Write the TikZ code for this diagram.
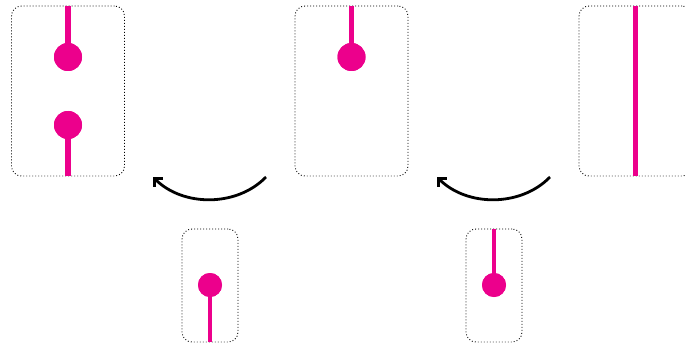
\documentclass[tikz,border=0pt]{standalone}
\usetikzlibrary{arrows.meta}
\definecolor{mag}{RGB}{236,0,140}
\tikzset{
  frame/.style={draw=black, line width=0.9pt, dash pattern=on 0.9pt off 2.1pt, rounded corners=10pt, inner sep=0pt},
  bigbox/.style={frame, minimum width=113pt, minimum height=170pt},
  smallbox/.style={frame, minimum width=56pt, minimum height=113pt},
  bigdot/.style={circle, fill=mag, inner sep=0pt, minimum size=28pt},
  smalldot/.style={circle, fill=mag, inner sep=0pt, minimum size=24pt},
  bigline/.style={draw=mag, line width=5.5pt},
  smallline/.style={draw=mag, line width=4.2pt},
  turn/.style={draw=black, line width=2.8pt, -{Straight Barb[length=6pt,width=12pt]}}
}
\begin{document}
\begin{tikzpicture}[x=1pt,y=-1pt]
\useasboundingbox (0,0) rectangle (686,345);
% big boxes
\node[bigbox] (b1) at (68,91) {};
\node[bigbox] (b2) at (351.5,91) {};
\node[bigbox] (b3) at (635.5,91) {};
% small boxes
\node[smallbox] (s1) at (210,285.5) {};
\node[smallbox] (s2) at (494,285.5) {};
% box 1
\node[bigdot] (c1) at (68,57) {};
\node[bigdot] (c2) at (68,125) {};
\draw[bigline] (b1.north) -- (c1.center);
\draw[bigline] (c2.center) -- (b1.south);
% box 2
\node[bigdot] (c3) at (351.5,57) {};
\draw[bigline] (b2.north) -- (c3.center);
% box 3
\draw[bigline] (b3.north) -- (b3.south);
% small box 1
\node[smalldot] (d1) at (210,285) {};
\draw[smallline] (d1.center) -- (s1.south);
% small box 2
\node[smalldot] (d2) at (494,285) {};
\draw[smallline] (s2.north) -- (d2.center);
% arrows
\coordinate (a1s) at (266,177);
\coordinate (a1e) at (153,177);
\coordinate (a2s) at (550,177);
\coordinate (a2e) at (437,177);
\draw[turn] (a1s) .. controls (237,207) and (183,207) .. (a1e);
\draw[turn] (a2s) .. controls (521,207) and (467,207) .. (a2e);
% redraw dots on top
\node[bigdot] at (c1) {};
\node[bigdot] at (c2) {};
\node[bigdot] at (c3) {};
\node[smalldot] at (d1) {};
\node[smalldot] at (d2) {};
\end{tikzpicture}
\end{document}
